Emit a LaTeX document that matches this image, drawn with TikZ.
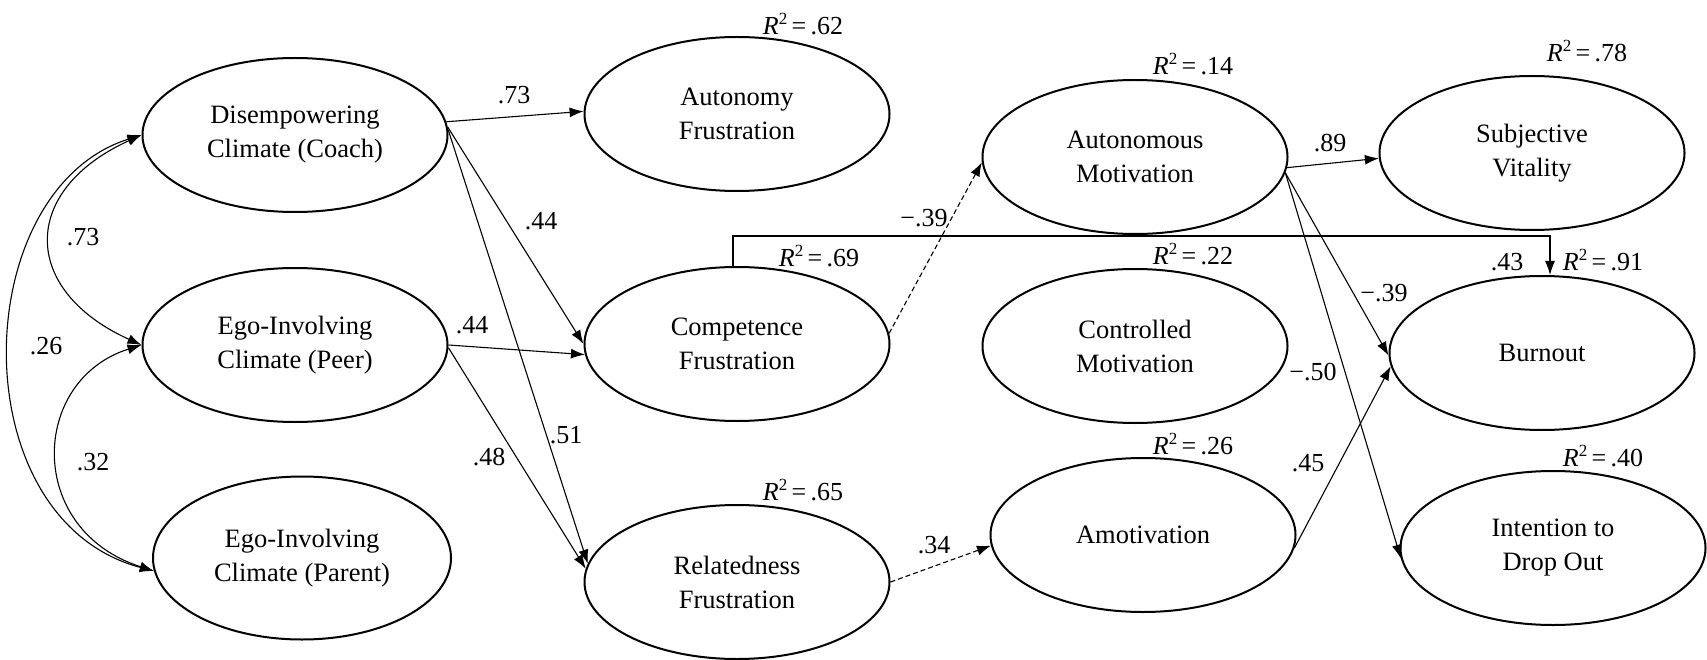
\documentclass[tikz,border=0pt]{standalone}
\usepackage{fontspec}
\setmainfont{Liberation Serif}
\usetikzlibrary{shapes.geometric,arrows.meta}
% R-squared annotation
\newcommand\rsqlabel[1]{\textit{R}\raisebox{10pt}{\fontsize{17}{17}\selectfont 2}\,=\,#1}
\begin{document}
\begin{tikzpicture}[x=1pt,y=-1pt,
  latent/.style={ellipse,draw,line width=2pt,inner sep=0pt,
    minimum width=305pt,minimum height=154pt,align=center,
    font=\fontsize{26.5}{34}\selectfont},
  reg/.style={line width=1.1pt,-{Latex[length=14pt,width=10pt]}},
  dashreg/.style={reg,dash pattern=on 5pt off 3pt},
  cov/.style={line width=1.1pt,{Latex[length=14pt,width=10pt]}-{Latex[length=14pt,width=10pt]}},
  coef/.style={font=\fontsize{26}{30}\selectfont,inner sep=0pt},
  rsq/.style={font=\fontsize{26}{30}\selectfont,inner sep=0pt}]
\useasboundingbox (0,0) rectangle (1707,660);

% latent variables
\node[latent] (dis) at (295,135) {Disempowering\\Climate (Coach)};
\node[latent] (pe)  at (295,345) {Ego-Involving\\Climate (Peer)};
\node[latent,minimum width=298pt,minimum height=163pt] (pa) at (302,558) {Ego-Involving\\Climate (Parent)};
\node[latent] (af)  at (737,114) {Autonomy\\Frustration};
\node[latent] (cf)  at (737,344) {Competence\\Frustration};
\node[latent] (rf)  at (737,582) {Relatedness\\Frustration};
\node[latent] (am)  at (1135,157) {Autonomous\\Motivation};
\node[latent] (cm)  at (1135,346) {Controlled\\Motivation};
\node[latent] (amo) at (1143,535) {Amotivation};
\node[latent] (sv)  at (1532,153) {Subjective\\Vitality};
\node[latent] (bo)  at (1542,353) {Burnout};
\node[latent] (id)  at (1553,548) {Intention to\\Drop Out};

% explained variance
\node[rsq] (r-af)  at (803,24)   {\rsqlabel{.62}};
\node[rsq] (r-cf)  at (819,256)  {\rsqlabel{.69}};
\node[rsq] (r-rf)  at (803,490)  {\rsqlabel{.65}};
\node[rsq] (r-am)  at (1193,64)  {\rsqlabel{.14}};
\node[rsq] (r-cm)  at (1193,254) {\rsqlabel{.22}};
\node[rsq] (r-amo) at (1193,444) {\rsqlabel{.26}};
\node[rsq] (r-sv)  at (1587,51)  {\rsqlabel{.78}};
\node[rsq] (r-bo)  at (1603,260) {\rsqlabel{.91}};
\node[rsq] (r-id)  at (1603,456) {\rsqlabel{.40}};

% covariances among climates
\draw[cov] (dis.180) .. controls (20,190) and (20,290) .. (pe.180);
\draw[cov] (dis.180) .. controls (-33,190) and (-40,520) .. (pa.185);
\draw[cov] (pe.180) .. controls (30,380) and (25,530) .. (pa.185);

% structural paths
\draw[reg] (dis.5) -- (af.179);
\draw[reg] (dis.3) -- (cf.180);
\draw[reg] (dis.2) -- (rf.173);
\draw[reg] (pe.0) -- (cf.184);
\draw[reg] (pe.-1) -- (rf.175);
\draw[dashreg] (cf.4) -- (am.182);
\draw[dashreg] (rf.0) -- (amo.184);
\draw[reg] (am.-4) -- (sv.182);
\draw[reg] (am.-6) -- (bo.181);
\draw[reg] (am.-6) -- (id.184);
\draw[reg] (amo.-5) -- (bo.185);
\draw[reg] ([xshift=-4pt]cf.north) -- ++(0,-30) -| ([xshift=8pt]bo.north);

% coefficients
\node[coef] (c1)  at (514,95)   {.73};
\node[coef] (c2)  at (541,221)  {.44};
\node[coef] (c3)  at (83,237)   {.73};
\node[coef] (c4)  at (46,346)   {.26};
\node[coef] (c5)  at (472,325)  {.44};
\node[coef] (c6)  at (93,462)   {.32};
\node[coef] (c7)  at (566,435)  {.51};
\node[coef] (c8)  at (489,457)  {.48};
\node[coef] (c9)  at (924,218)  {−.39};
\node[coef] (c10) at (934,545)  {.34};
\node[coef] (c11) at (1330,143) {.89};
\node[coef] (c12) at (1507,262) {.43};
\node[coef] (c13) at (1384,293) {−.39};
\node[coef] (c14) at (1313,372) {−.50};
\node[coef] (c15) at (1308,463) {.45};
\end{tikzpicture}
\end{document}
